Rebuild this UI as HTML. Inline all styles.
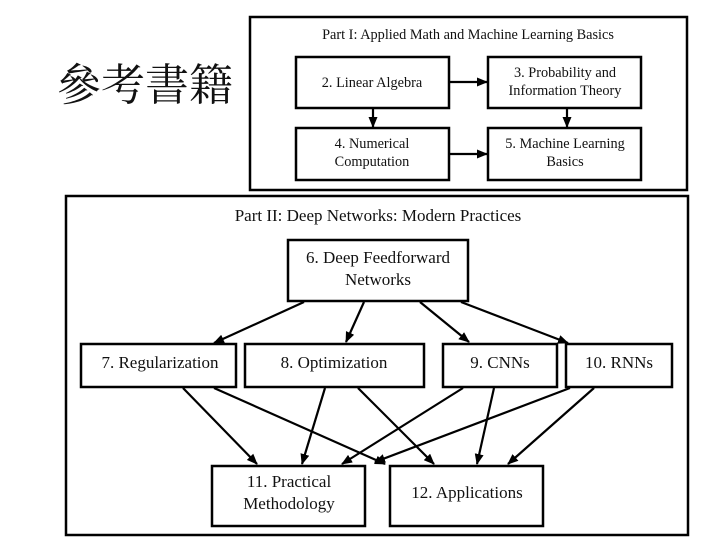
<!DOCTYPE html>
<html><head><meta charset="utf-8"><style>
html,body{margin:0;padding:0;background:#fff;width:720px;height:540px;overflow:hidden}
svg text{font-family:"Liberation Serif",serif;fill:#111}
</style></head><body>
<svg width="720" height="540" xmlns="http://www.w3.org/2000/svg">
<defs><marker id="a" markerWidth="11" markerHeight="9" refX="10" refY="4.5" orient="auto" markerUnits="userSpaceOnUse"><path d="M0,0 L11,4.5 L0,9 z" fill="#000"/></marker></defs>
<text x="57" y="100" style="font-family:'Liberation Serif','Noto Serif CJK SC',serif;font-size:44px">參考書籍</text>
<g fill="none" stroke="#000" stroke-width="2.5">
<rect x="250" y="17" width="437" height="173"/>
<rect x="296" y="57" width="153" height="51"/>
<rect x="488" y="57" width="153" height="51"/>
<rect x="296" y="128" width="153" height="52"/>
<rect x="488" y="128" width="153" height="52"/>
<rect x="66" y="196" width="622" height="339"/>
<rect x="288" y="240" width="180" height="61"/>
<rect x="81" y="344" width="155" height="43"/>
<rect x="245" y="344" width="179" height="43"/>
<rect x="443" y="344" width="114" height="43"/>
<rect x="566" y="344" width="106" height="43"/>
<rect x="212" y="466" width="153" height="60"/>
<rect x="390" y="466" width="153" height="60"/>
</g>
<g stroke="#000" stroke-width="2.2" marker-end="url(#a)">
<line x1="449" y1="82" x2="487" y2="82"/>
<line x1="449" y1="154" x2="487" y2="154"/>
<line x1="373" y1="108" x2="373" y2="127"/>
<line x1="567" y1="108" x2="567" y2="127"/>
<line x1="304" y1="302" x2="214" y2="343"/>
<line x1="364" y1="302" x2="346" y2="342"/>
<line x1="420" y1="302" x2="469" y2="342"/>
<line x1="461" y1="302" x2="568" y2="343"/>
<line x1="183" y1="388" x2="257" y2="464"/>
<line x1="214" y1="388" x2="385" y2="464"/>
<line x1="325" y1="388" x2="302" y2="464"/>
<line x1="358" y1="388" x2="434" y2="464"/>
<line x1="463" y1="388" x2="342" y2="464"/>
<line x1="494" y1="388" x2="477" y2="464"/>
<line x1="570" y1="388" x2="375" y2="462"/>
<line x1="594" y1="388" x2="508" y2="464"/>
</g>
<g font-size="14.3" text-anchor="middle">
<text x="468" y="39">Part I: Applied Math and Machine Learning Basics</text>
<text x="372" y="87">2. Linear Algebra</text>
<text x="565" y="77">3. Probability and</text>
<text x="565" y="95">Information Theory</text>
<text x="372" y="148">4. Numerical</text>
<text x="372" y="166">Computation</text>
<text x="565" y="148">5. Machine Learning</text>
<text x="565" y="166">Basics</text>
</g>
<g font-size="17" text-anchor="middle">
<text x="378" y="221">Part II: Deep Networks: Modern Practices</text>
<text x="378" y="263">6. Deep Feedforward</text>
<text x="378" y="285">Networks</text>
<text x="160" y="368">7. Regularization</text>
<text x="334" y="368">8. Optimization</text>
<text x="500" y="368">9.  CNNs</text>
<text x="619" y="368">10.  RNNs</text>
<text x="289" y="487">11. Practical</text>
<text x="289" y="509">Methodology</text>
<text x="467" y="498">12. Applications</text>
</g>
</svg>
</body></html>
